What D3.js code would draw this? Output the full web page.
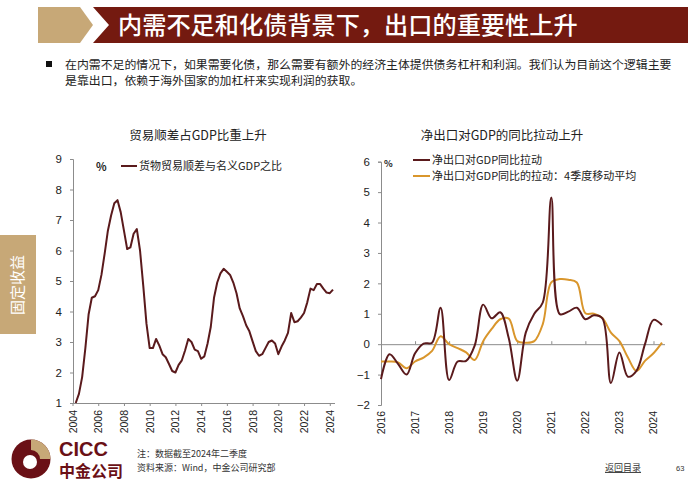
<!DOCTYPE html>
<html><head><meta charset="utf-8">
<script src="https://cdn.jsdelivr.net/npm/d3@7"></script>
<style>
body{margin:0;background:#fff;}
svg text{font-family:"Noto Sans CJK SC","Liberation Sans",sans-serif;}
.num{font-family:"Liberation Sans",Arial,sans-serif !important;}
</style></head>
<body><svg id="c" width="700" height="490"></svg>
<script>
// ---------- DATA ----------
const titleText = "内需不足和化债背景下，出口的重要性上升";
const bulletLines = ["在内需不足的情况下，如果需要化债，那么需要有额外的经济主体提供债务杠杆和利润。我们认为目前这个逻辑主要",
                     "是靠出口，依赖于海外国家的加杠杆来实现利润的获取。"];
const leftTitle = "贸易顺差占GDP比重上升";
const rightTitle = "净出口对GDP的同比拉动上升";
const leftLegend = "货物贸易顺差与名义GDP之比";
const rightLegend = ["净出口对GDP同比拉动", "净出口对GDP同比的拉动：4季度移动平均"];
// Left: quarterly, 2004Q2 .. 2024Q2 (%)
const tradeStart = [2004, 2];
const tradeSurplus = [1.0,1.3,1.85,2.8,3.9,4.45,4.5,4.7,5.2,5.9,6.65,7.15,7.55,7.65,7.25,6.65,6.05,6.1,6.55,6.7,
  6.0,4.85,3.6,2.8,2.8,3.1,2.88,2.6,2.5,2.28,2.05,2.0,2.25,2.4,2.72,3.1,3.0,2.75,2.7,2.45,
  2.53,2.95,3.5,4.45,4.95,5.25,5.4,5.3,5.2,4.95,4.6,4.1,3.85,3.55,3.35,3.02,2.7,2.55,2.6,2.8,
  3.0,3.05,2.95,2.6,2.85,3.05,3.3,3.95,3.65,3.68,3.8,3.95,4.3,4.75,4.7,4.9,4.9,4.75,4.62,4.6,4.72];
const leftYTicks = [1,2,3,4,5,6,7,8,9];
const leftXTicks = [2004,2006,2008,2010,2012,2014,2016,2018,2020,2022,2024];
// Right: quarterly, 2016Q1 .. 2024Q2 (%)
const netStart = [2016, 1];
const netExport = [-1.15,-0.33,-0.65,-1.0,-0.3,0.02,0.05,1.2,-1.18,-0.57,-0.55,-0.05,1.3,0.85,1.05,0.2,-1.2,
  0.38,1.0,1.37,4.82,0.99,1.07,1.2,0.82,0.95,0.85,-1.28,-0.27,-1.07,-0.88,0.0,0.8,0.63];
const netExportMA4 = [-0.57,-0.57,-0.6,-0.79,-0.57,-0.44,-0.22,0.26,0.0,-0.13,-0.27,-0.52,0.1,0.5,0.82,0.84,0.1,
  0.05,0.1,0.66,2.03,2.14,2.12,2.03,1.02,1.0,0.86,0.38,0.1,-0.44,-0.88,-0.55,-0.3,0.05];
const rightYTicks = [-2,-1,0,1,2,3,4,5,6];
const rightXTicks = [2016,2017,2018,2019,2020,2021,2022,2023,2024];
const noteLines = ["注：数据截至2024年二季度","资料来源：Wind，中金公司研究部"];

// ---------- DRAW ----------
const svg = d3.select("#c");
const RED = "#741a10", BEIGE = "#c7a877", DARK = "#5a1a1c", ORANGE = "#d9962c", AX = "#8c8c8c";

// header
svg.append("path").attr("d","M38,7 L80,7 L93,25 L80,43 L38,43 Z").attr("fill",BEIGE);
svg.append("path").attr("d","M93,7 L688,7 L688,43 L93,43 L109,25 Z").attr("fill",RED);
svg.append("text").attr("x",118).attr("y",34).attr("fill","#fff").attr("font-size",24.2)
  .attr("font-weight",500).text(titleText);

// bullet
svg.append("rect").attr("x",46).attr("y",61).attr("width",6).attr("height",6).attr("fill","#111");
svg.selectAll(".bl").data(bulletLines).join("text").attr("x",65).attr("y",(d,i)=>69+i*16)
  .attr("font-size",11.9).attr("fill","#222").text(d=>d);

// side tab
svg.append("rect").attr("x",0).attr("y",235).attr("width",36).attr("height",99).attr("fill",BEIGE);
svg.append("text").attr("transform","translate(23,285) rotate(-90)").attr("text-anchor","middle")
  .attr("font-size",15).attr("fill","#fff").text("固定收益");

// quarter position helper
function qpos(start, i){ const q = start[1]-1+i; return start[0] + Math.floor(q/4) + (q%4)/4; }

// ---------- LEFT CHART ----------
const xL = d3.scaleLinear().domain([2004,2024.25]).range([72.5,333]);
const yL = d3.scaleLinear().domain([1,9]).range([403,159]);
svg.append("text").attr("x",198).attr("y",140).attr("text-anchor","middle").attr("font-size",12.5)
  .attr("fill","#222").text(leftTitle);
const gly = svg.append("g").attr("transform","translate(73,0)")
  .call(d3.axisLeft(yL).tickValues(leftYTicks).tickSize(3).tickPadding(8).tickFormat(d3.format("d")));
const glx = svg.append("g").attr("transform","translate(0,403)")
  .call(d3.axisBottom(xL).tickValues(leftXTicks).tickSize(3).tickSizeOuter(0).tickFormat(()=>""));
glx.select(".domain").attr("d","M73,0.5H335");
[gly,glx].forEach(g=>{
  g.select(".domain").attr("stroke",AX);
  g.selectAll(".tick line").attr("stroke",AX);
  g.selectAll("text").attr("class","num").attr("font-size",11.5).attr("fill","#222");
});
svg.append("g").selectAll("text").data(leftXTicks).join("text").attr("class","num")
  .attr("transform",d=>`translate(${xL(d)+4},410) rotate(-90)`).attr("text-anchor","end")
  .attr("font-size",10.5).attr("fill","#222").text(d=>d);
svg.append("path").datum(tradeSurplus).attr("fill","none").attr("stroke",DARK).attr("stroke-width",2)
  .attr("stroke-linejoin","round")
  .attr("d",d3.line().x((d,i)=>xL(qpos(tradeStart,i))).y(d=>yL(d)));
svg.append("text").attr("x",96).attr("y",171).attr("font-size",11).attr("font-weight","bold").attr("fill","#222").text("%");
svg.append("line").attr("x1",121).attr("x2",137).attr("y1",166).attr("y2",166).attr("stroke",DARK).attr("stroke-width",2);
svg.append("text").attr("x",139).attr("y",170).attr("font-size",11).attr("fill","#222").text(leftLegend);

// ---------- RIGHT CHART ----------
const xR = d3.scaleLinear().domain([2016,2024.25]).range([381,662]);
const yR = d3.scaleLinear().domain([-2,6]).range([405,161.7]);
svg.append("text").attr("x",502).attr("y",140).attr("text-anchor","middle").attr("font-size",12.5)
  .attr("fill","#222").text(rightTitle);
const gry = svg.append("g").attr("transform","translate(381,0)")
  .call(d3.axisLeft(yR).tickValues(rightYTicks).tickSize(3).tickPadding(8).tickFormat(d3.format("d")));
const grx = svg.append("g").attr("transform",`translate(0,${yR(0)})`)
  .call(d3.axisTop(xR).tickValues(rightXTicks).tickSize(3).tickSizeOuter(0).tickFormat(()=>""));
grx.select(".domain").attr("d","M381,0.5H665");
[gry,grx].forEach(g=>{
  g.select(".domain").attr("stroke",AX);
  g.selectAll(".tick line").attr("stroke",AX);
  g.selectAll("text").attr("class","num").attr("font-size",11.5).attr("fill","#222");
});
svg.append("g").selectAll("text").data(rightXTicks).join("text").attr("class","num")
  .attr("transform",d=>`translate(${xR(d)+4},411) rotate(-90)`).attr("text-anchor","end")
  .attr("font-size",10.5).attr("fill","#222").text(d=>d);
const lineR = d3.line().curve(d3.curveCatmullRom.alpha(0.5)).x((d,i)=>xR(qpos(netStart,i))).y(d=>yR(d));
svg.append("path").datum(netExportMA4).attr("fill","none").attr("stroke",ORANGE).attr("stroke-width",2).attr("d",lineR);
svg.append("path").datum(netExport).attr("fill","none").attr("stroke",DARK).attr("stroke-width",2).attr("d",lineR);
svg.append("text").attr("x",384).attr("y",167).attr("font-size",9).attr("font-weight","bold").attr("fill","#222").text("%");
[DARK,ORANGE].forEach((c,i)=>{
  svg.append("line").attr("x1",413).attr("x2",430).attr("y1",160+i*16).attr("y2",160+i*16).attr("stroke",c).attr("stroke-width",2);
  svg.append("text").attr("x",432).attr("y",164+i*16).attr("font-size",11).attr("fill","#222").text(rightLegend[i]);
});

// ---------- FOOTER ----------
const lg = svg.append("g");
lg.append("circle").attr("cx",31).attr("cy",459).attr("r",19.5).attr("fill","#6a1016");
lg.append("path").attr("d","M31,439.5 A19.5,19.5 0 0 1 50.5,459 L40,459 A9,9 0 0 0 31,450 Z").attr("fill",BEIGE);
lg.append("circle").attr("cx",30).attr("cy",462).attr("r",7).attr("fill","#fff");
svg.append("text").attr("x",59).attr("y",456).attr("font-size",20).attr("font-weight","bold")
  .attr("fill","#6a1016").attr("class","num").text("CICC");
svg.append("text").attr("x",59).attr("y",477).attr("font-size",16).attr("font-weight","bold")
  .attr("fill","#6a1016").text("中金公司");
svg.selectAll(".nt").data(noteLines).join("text").attr("x",137).attr("y",(d,i)=>457+i*14)
  .attr("font-size",9).attr("fill","#333").text(d=>d);
svg.append("text").attr("x",605).attr("y",471).attr("font-size",9).attr("fill","#333")
  .attr("text-decoration","underline").text("返回目录");
svg.append("text").attr("x",676).attr("y",471).attr("font-size",7.5).attr("fill","#333").attr("class","num").text("63");
</script></body></html>
